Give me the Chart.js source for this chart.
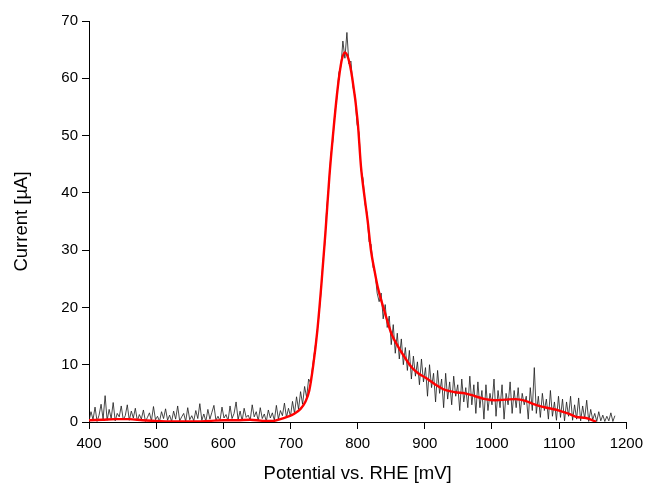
<!DOCTYPE html>
<html>
<head>
<meta charset="utf-8">
<script src="https://cdn.jsdelivr.net/npm/chart.js@4.4.1/dist/chart.umd.min.js"></script>
<style>
  html, body { margin: 0; padding: 0; background: #fff; }
  #wrap { width: 649px; height: 486px; }
</style>
</head>
<body>
<div id="wrap"><canvas id="c" width="649" height="486"></canvas></div>
<script>
// Measured current: sampled every 3 mV starting at 400 mV
const potStart = 400;
const potStep = 3;
const currentRaw = [
  // 400 - 697 mV
  0.2, 1.8, 0.4, 2.6, 0.1, 1.2, 3.1, 0.5, 4.6, 0.3,
  2.2, 0.6, 3.4, 0.2, 1.5, 0.9, 2.8, 0.4, 1.1, 3.0,
  0.3, 1.9, 0.7, 2.4, 0.2, 1.3, 0.5, 2.1, 0.1, 0.8,
  1.6, 0.2, 2.7, 0.4, 1.0, 0.1, 1.8, 0.6, 2.3, 0.3,
  1.2, 0.1, 1.9, 0.5, 2.8, 0.2, 0.9, 1.5, 0.1, 2.5,
  0.4, 1.1, 0.2, 2.0, 0.6, 3.2, 0.3, 1.4, 0.1, 2.2,
  0.5, 1.7, 2.9, 0.3, 1.0, 0.2, 2.6, 0.7, 1.3, 0.2,
  2.8, 0.6, 1.5, 3.5, 0.4, 1.9, 0.2, 2.4, 0.8, 1.2,
  0.3, 3.0, 0.9, 1.8, 0.2, 2.5, 0.6, 1.4, 0.1, 2.1,
  0.7, 1.6, 0.3, 2.9, 0.5, 2.0, 1.1, 3.3, 0.8, 2.4,
  // 700 - 730 mV
  1.0, 3.6, 1.5, 4.4, 2.2, 5.3, 3.1, 6.2, 4.3, 7.5, 6.8,
  // 733 - 829 mV
  9.8, 12.5, 15.0, 18.2, 22.0, 27.5, 31.0, 37.5, 41.0, 46.5,
  49.0, 54.0, 56.5, 61.0, 62.0, 66.5, 63.5, 68.0, 62.5, 63.0,
  58.5, 57.0, 52.0, 50.5, 44.0, 42.5, 38.0, 36.5, 31.5, 31.0,
  27.0, 26.0, 22.5,
  // 832 - 1099 mV
  21.0, 22.5, 18.0, 20.5, 16.5, 18.5, 13.5, 17.0, 12.0, 15.5,
  11.0, 14.5, 10.0, 13.0, 9.0, 12.5, 7.5, 11.5, 8.0, 10.5,
  6.5, 11.0, 7.0, 9.5, 4.5, 10.0, 6.0, 8.5, 3.5, 9.0,
  5.0, 7.5, 2.5, 8.5, 4.0, 7.0, 3.0, 8.0, 4.5, 6.5,
  2.0, 7.5, 3.5, 6.0, 2.5, 8.0, 3.0, 6.5, 1.5, 7.0,
  2.5, 5.5, 0.5, 6.5, 2.0, 5.0, 3.0, 7.5, 1.0, 5.5,
  2.5, 6.5, 0.5, 5.0, 3.0, 7.0, 1.5, 5.5, 2.5, 6.0,
  1.5, 5.0, 3.0, 4.5, 0.5, 6.0, 2.0, 9.5, 1.5, 4.5,
  0.8, 5.0, 2.0, 4.0, 0.5, 5.5, 1.0, 3.5, 0.3, 4.5,
  // 1102 - 1183 mV
  0.8, 4.0, 0.2, 3.5, 1.0, 4.5, 0.3, 3.0, 0.5, 4.2,
  0.2, 2.8, 0.6, 3.8, 0.1, 2.2, 0.4, 1.5, 0.1, 1.8,
  0.2, 1.2, 0.1, 1.0, 0.2, 1.6, 0.1, 1.1
];

// Smoothed current
const smoothPot = [
  400, 420, 440, 460, 480, 500, 520, 540, 560, 580,
  600, 620, 640, 660, 675, 685, 695, 705, 715, 722,
  728, 734, 740, 746, 752, 758, 764, 770, 776, 781,
  786, 792, 800, 805, 810, 815, 820, 825, 830, 840,
  850, 860, 870, 880, 890, 900, 915, 930, 945, 960,
  975, 990, 1005, 1020, 1035, 1050, 1060, 1070, 1085, 1100,
  1115, 1125, 1140, 1150, 1155
];
const smoothCur = [
  0.3, 0.4, 0.5, 0.5, 0.3, 0.2, 0.1, 0.1, 0.1, 0.2,
  0.3, 0.3, 0.4, 0.2, 0.2, 0.5, 0.9, 1.4, 2.3, 3.5,
  5.5, 10.0, 16.0, 24.0, 33.0, 43.0, 51.0, 58.0, 63.0, 64.5,
  63.5, 60.0, 52.5, 44.5, 39.5, 35.0, 29.8, 26.5, 23.5, 19.3,
  15.5, 13.2, 11.3, 9.6, 8.5, 7.8, 6.6, 5.6, 5.2, 5.0,
  4.5, 4.0, 3.8, 3.9, 4.0, 3.7, 3.2, 2.8, 2.4, 2.0,
  1.4, 0.9, 0.7, 0.3, 0.0
];

const xTicks = [400, 500, 600, 700, 800, 900, 1000, 1100, 1200];
const yTicks = [0, 10, 20, 30, 40, 50, 60, 70];

const rawPoints = currentRaw.map((v, i) => ({ x: potStart + i * potStep, y: v }));
const smoothPoints = smoothPot.map((p, i) => ({ x: p, y: smoothCur[i] }));

const FONT = '"Liberation Sans", Arial, sans-serif';

new Chart(document.getElementById('c'), {
  type: 'scatter',
  data: {
    datasets: [
      {
        data: smoothPoints,
        showLine: true,
        borderColor: '#ff0000',
        borderWidth: 2.4,
        pointRadius: 0,
        cubicInterpolationMode: 'monotone',
        order: 0
      },
      {
        data: rawPoints,
        showLine: true,
        borderColor: '#1a1a1a',
        borderWidth: 0.8,
        pointRadius: 0,
        tension: 0,
        order: 1
      }
    ]
  },
  options: {
    responsive: false,
    animation: false,
    events: [],
    layout: { padding: { top: 21, right: 18, left: 0, bottom: 0 } },
    plugins: { legend: { display: false }, tooltip: { enabled: false } },
    scales: {
      x: {
        type: 'linear',
        min: 400, max: 1200,
        afterBuildTicks: s => { s.ticks = xTicks.map(v => ({ value: v })); },
        afterFit: s => { s.height = 486 - 422; },
        grid: { drawOnChartArea: false, drawTicks: true, tickLength: 7, color: '#000', tickWidth: 1 },
        border: { color: '#000', width: 1 },
        ticks: { color: '#000', padding: 6, font: { family: FONT, size: 15 }, maxRotation: 0,
                 callback: v => String(v) },
        title: { display: true, text: 'Potential vs. RHE [mV]', color: '#000',
                 font: { family: FONT, size: 18.5 }, padding: { top: 4, bottom: 1 } }
      },
      y: {
        type: 'linear',
        min: 0, max: 70,
        afterBuildTicks: s => { s.ticks = yTicks.map(v => ({ value: v })); },
        afterFit: s => { s.width = 89; },
        grid: { drawOnChartArea: false, drawTicks: true, tickLength: 7, color: '#000', tickWidth: 1 },
        border: { color: '#000', width: 1 },
        ticks: { color: '#000', padding: 4, font: { family: FONT, size: 15 },
                 callback: v => String(v) },
        title: { display: true, text: 'Current [µA]', color: '#000',
                 font: { family: FONT, size: 18.5 }, padding: { top: 11, bottom: 0 } }
      }
    }
  }
});
</script>
</body>
</html>
